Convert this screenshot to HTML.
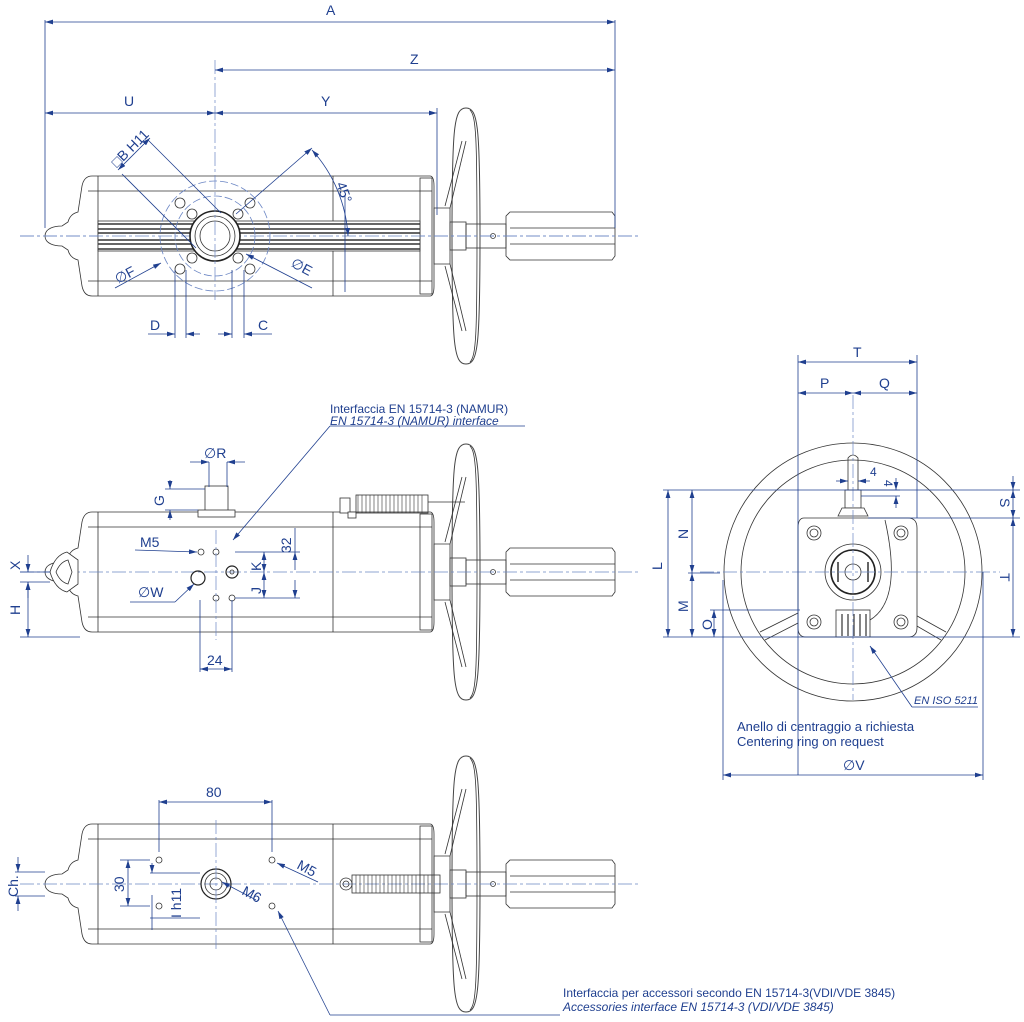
<!DOCTYPE html>
<html><head><meta charset="utf-8"><style>
html,body{margin:0;padding:0;background:#fff}
svg{display:block}
text{font-family:"Liberation Sans",sans-serif;fill:#1f3f8f;font-size:14px}
.b{stroke:#1f3f8f;stroke-width:0.8;fill:none}
.c{stroke:#6b86c4;stroke-width:0.7;fill:none;stroke-dasharray:14 3 3 3}
.k{stroke:#333;stroke-width:0.8;fill:none}
.kf{stroke:#333;stroke-width:0.8;fill:#fff}
.t{stroke:#222;stroke-width:1.6;fill:none}
</style></head><body>
<svg width="1024" height="1022" viewBox="0 0 1024 1022" xmlns="http://www.w3.org/2000/svg">
<defs>
<marker id="a" viewBox="0 0 10 6" refX="10" refY="3" markerWidth="10" markerHeight="6" orient="auto-start-reverse"><path d="M0,0 L10,3 L0,6z" fill="#1f3f8f"/></marker>
<g id="body">
 <path class="k" d="M45,0 C45,-8 55,-10 62,-10 L68,-14 Q70,-22 78,-24 L82,-50 Q84,-60 92,-60 L430,-60 Q434,-60 434,-50 L434,50 Q434,60 430,60 L92,60 Q84,60 82,50 L78,24 Q70,22 68,14 L62,10 C55,10 45,8 45,0z"/>
 <line class="k" x1="88" y1="-45" x2="432" y2="-45"/><line class="k" x1="88" y1="45" x2="432" y2="45"/>
 <line class="k" x1="98" y1="-60" x2="98" y2="60"/><line class="k" x1="333" y1="-60" x2="333" y2="60"/>
 <rect class="k" x="420" y="-58" width="12" height="116"/>
 <path class="k" d="M434,-28 L450,-28 L450,28 L434,28z"/>
 <rect class="k" x="450" y="-14" width="16" height="28"/>
 <rect class="k" x="466" y="-12" width="40" height="24"/>
 <path class="k" d="M506,-20 L510,-24 L612,-24 L615,-20 L615,20 L612,24 L510,24 L506,20z"/>
 <line class="k" x1="510" y1="-8" x2="615" y2="-8"/><line class="k" x1="510" y1="8" x2="615" y2="8"/>
 <circle class="k" cx="493" cy="0" r="2.5"/>
 <path class="t" style="stroke-width:1;stroke:#444" d="M466,-128 C478,-128 480,-110 480,0 C480,110 478,128 466,128 C454,128 452,110 452,0 C452,-110 454,-128 466,-128z"/>
 <path class="k" d="M470,-126 C476,-120 477,-100 477,0 C477,100 476,120 470,126"/>
 <line class="k" x1="462" y1="-95" x2="445" y2="-30"/><line class="k" x1="466" y1="-95" x2="450" y2="-28"/>
 <line class="k" x1="462" y1="95" x2="445" y2="30"/><line class="k" x1="466" y1="95" x2="450" y2="28"/>
 <line class="c" x1="20" y1="0" x2="640" y2="0"/>
</g>
</defs>

<!-- TOP VIEW -->
<use href="#body" y="236"/>
<g>
 <rect x="98" y="221" width="322" height="30" fill="#fff" stroke="#333" stroke-width="0.8"/>
 <g stroke="#333" stroke-width="1.4">
  <line x1="98" y1="224" x2="420" y2="224"/><line x1="98" y1="229" x2="420" y2="229"/><line x1="98" y1="233" x2="420" y2="233"/>
  <line x1="98" y1="240" x2="420" y2="240"/><line x1="98" y1="244" x2="420" y2="244"/><line x1="98" y1="249" x2="420" y2="249"/>
 </g>
 <line class="c" x1="20" y1="236" x2="640" y2="236"/>
 <circle cx="215" cy="236" r="55" class="b" stroke-dasharray="8 3" style="stroke:#6b86c4"/>
 <circle cx="215" cy="236" r="40" class="b" stroke-dasharray="8 3" style="stroke:#6b86c4"/>
 <circle cx="215" cy="236" r="25" fill="#fff" stroke="#222" stroke-width="1.6"/>
 <circle cx="215" cy="236" r="20" class="k"/><circle cx="215" cy="236" r="15" class="k"/>
 <g class="k">
  <circle cx="180" cy="203" r="5"/><circle cx="250" cy="203" r="5"/><circle cx="180" cy="269" r="5"/><circle cx="250" cy="269" r="5"/>
  <circle cx="192" cy="214" r="5"/><circle cx="238" cy="214" r="5"/><circle cx="192" cy="258" r="5"/><circle cx="238" cy="258" r="5"/>
 </g>
 <line class="c" x1="215" y1="60" x2="215" y2="300"/>
</g>
<!-- top dims -->
<g class="b">
 <line x1="45" y1="20" x2="45" y2="228"/><line x1="615" y1="20" x2="615" y2="228"/>
 <line x1="45" y1="22" x2="615" y2="22" marker-start="url(#a)" marker-end="url(#a)"/>
 <line x1="215" y1="70" x2="615" y2="70" marker-start="url(#a)" marker-end="url(#a)"/>
 <line x1="45" y1="113" x2="215" y2="113" marker-start="url(#a)" marker-end="url(#a)"/>
 <line x1="215" y1="113" x2="437" y2="113" marker-start="url(#a)" marker-end="url(#a)"/>
 <line x1="437" y1="108" x2="437" y2="215"/>
 <line x1="118" y1="170" x2="150" y2="138" marker-start="url(#a)" marker-end="url(#a)"/>
 <line x1="122" y1="174" x2="196" y2="248"/><line x1="148" y1="140" x2="221" y2="213"/>
 <line x1="236" y1="214" x2="312" y2="148" marker-end="url(#a)"/>
 <path d="M312,150 A140,140 0 0 1 348,236" marker-start="url(#a)" marker-end="url(#a)"/>
 <line x1="345" y1="196" x2="345" y2="292"/>
 <line x1="115" y1="288" x2="161" y2="263" marker-end="url(#a)"/>
 <line x1="312" y1="288" x2="246" y2="254" marker-end="url(#a)"/>
 <line x1="175" y1="270" x2="175" y2="338"/><line x1="186" y1="270" x2="186" y2="338"/>
 <line x1="232" y1="270" x2="232" y2="338"/><line x1="244" y1="270" x2="244" y2="338"/>
 <line x1="148" y1="334" x2="175" y2="334" marker-end="url(#a)"/><line x1="200" y1="334" x2="186" y2="334" marker-end="url(#a)"/>
 <line x1="218" y1="334" x2="232" y2="334" marker-end="url(#a)"/><line x1="272" y1="334" x2="244" y2="334" marker-end="url(#a)"/>
</g>
<text x="326" y="15">A</text><text x="410" y="64">Z</text><text x="124" y="106">U</text><text x="321" y="106">Y</text>
<text x="0" y="0" transform="translate(117,168) rotate(-45)">□B H11</text>
<text x="0" y="0" transform="translate(336,184) rotate(70)">45°</text>
<text x="0" y="0" transform="translate(118,284) rotate(-28)">∅F</text>
<text x="0" y="0" transform="translate(290,266) rotate(28)">∅E</text>
<text x="150" y="330">D</text><text x="258" y="330">C</text>

<!-- MIDDLE VIEW -->
<use href="#body" y="572"/>
<g>
 <path class="kf" d="M50,572 Q55,555 67,552 L78,560 L78,584 L67,592 Q55,589 50,572z"/>
 <path class="k" d="M56,572 Q60,562 68,560 L72,572 L68,584 Q60,582 56,572z"/>
 <rect class="kf" x="205" y="486" width="23" height="25"/><rect class="kf" x="198" y="510" width="37" height="7"/>
 <rect class="kf" x="340" y="498" width="10" height="15"/><rect class="kf" x="348" y="512" width="8" height="6"/>
 <rect class="k" x="356" y="495" width="72" height="18"/>
 <g stroke="#333" stroke-width="0.6">
  <path d="M358,495v18M362,495v18M366,495v18M370,495v18M374,495v18M378,495v18M382,495v18M386,495v18M390,495v18M394,495v18M398,495v18M402,495v18M406,495v18M410,495v18M414,495v18M418,495v18M422,495v18"/>
 </g>
 <line class="k" x1="428" y1="502" x2="465" y2="502"/>
 <circle class="k" cx="201" cy="552" r="3"/><circle class="k" cx="216" cy="552" r="3"/>
 <circle class="t" style="stroke-width:1.2" cx="198" cy="578" r="7"/>
 <circle class="t" style="stroke-width:1.2" cx="232" cy="572" r="6"/><circle class="k" cx="232" cy="572" r="2"/>
 <circle class="k" cx="216" cy="598" r="3"/><circle class="k" cx="232" cy="598" r="3"/>
 <line class="c" x1="216" y1="530" x2="216" y2="640"/>
</g>
<g class="b">
 <line x1="209" y1="462" x2="209" y2="487"/><line x1="227" y1="462" x2="227" y2="487"/>
 <line x1="190" y1="462" x2="209" y2="462" marker-end="url(#a)"/><line x1="245" y1="462" x2="227" y2="462" marker-end="url(#a)"/>
 <line x1="165" y1="489" x2="205" y2="489"/><line x1="165" y1="510" x2="198" y2="510"/>
 <line x1="170" y1="480" x2="170" y2="489" marker-end="url(#a)"/><line x1="170" y1="520" x2="170" y2="510" marker-end="url(#a)"/>
 <line x1="525" y1="426" x2="330" y2="426"/><line x1="330" y1="426" x2="233" y2="540" marker-end="url(#a)"/>
 <line x1="135" y1="550" x2="197" y2="552" marker-end="url(#a)"/>
 <line x1="130" y1="602" x2="175" y2="602"/><line x1="175" y1="602" x2="194" y2="584" marker-end="url(#a)"/>
 <line x1="235" y1="552" x2="300" y2="552"/><line x1="235" y1="598" x2="300" y2="598"/>
 <line x1="295" y1="528" x2="295" y2="552"/>
 <line x1="295" y1="570" x2="295" y2="552" marker-end="url(#a)"/><line x1="295" y1="580" x2="295" y2="598" marker-end="url(#a)"/>
 <line x1="264" y1="552" x2="264" y2="572" marker-start="url(#a)" marker-end="url(#a)"/>
 <line x1="264" y1="572" x2="264" y2="598" marker-start="url(#a)" marker-end="url(#a)"/>
 <line x1="200" y1="600" x2="200" y2="672"/><line x1="232" y1="600" x2="232" y2="672"/>
 <line x1="200" y1="669" x2="232" y2="669" marker-start="url(#a)" marker-end="url(#a)"/>
 <line x1="20" y1="637" x2="80" y2="637"/><line x1="20" y1="572" x2="50" y2="572"/><line x1="20" y1="582" x2="50" y2="582"/>
 <line x1="28" y1="582" x2="28" y2="637" marker-start="url(#a)" marker-end="url(#a)"/>
 <line x1="28" y1="555" x2="28" y2="572" marker-end="url(#a)"/><line x1="28" y1="598" x2="28" y2="582" marker-end="url(#a)"/>
</g>
<text x="204" y="458">∅R</text><text x="0" y="0" transform="translate(164,506) rotate(-90)">G</text>
<text x="330" y="413" style="font-size:12px">Interfaccia EN 15714-3 (NAMUR)</text>
<text x="330" y="425" style="font-size:12px;font-style:italic">EN 15714-3 (NAMUR) interface</text>
<text x="140" y="547">M5</text><text x="138" y="597">∅W</text>
<text x="0" y="0" transform="translate(291,553) rotate(-90)">32</text>
<text x="0" y="0" transform="translate(261,571) rotate(-90)">K</text>
<text x="0" y="0" transform="translate(261,594) rotate(-90)">J</text>
<text x="207" y="665">24</text>
<text x="0" y="0" transform="translate(20,570) rotate(-90)">X</text>
<text x="0" y="0" transform="translate(20,615) rotate(-90)">H</text>

<!-- BOTTOM VIEW -->
<use href="#body" y="884"/>
<g>
 <circle class="t" style="stroke-width:1.2" cx="216" cy="884" r="15"/><circle class="k" cx="216" cy="884" r="11"/>
 <circle class="k" cx="216" cy="884" r="6"/>
 <circle class="k" cx="159" cy="860" r="3"/><circle class="k" cx="159" cy="906" r="3"/>
 <circle class="k" cx="272" cy="860" r="3"/><circle class="k" cx="272" cy="906" r="3"/>
 <circle class="k" cx="346" cy="884" r="6"/><circle class="k" cx="346" cy="884" r="3"/>
 <rect class="k" x="352" y="875" width="88" height="18"/>
 <g stroke="#333" stroke-width="0.6"><path d="M356,875v18M360,875v18M364,875v18M368,875v18M372,875v18M376,875v18M380,875v18M384,875v18M388,875v18M392,875v18M396,875v18M400,875v18M404,875v18M408,875v18M412,875v18M416,875v18M420,875v18M424,875v18M428,875v18M432,875v18"/></g>
 <line class="c" x1="216" y1="820" x2="216" y2="950"/>
</g>
<g class="b">
 <line x1="159" y1="800" x2="159" y2="852"/><line x1="272" y1="800" x2="272" y2="852"/>
 <line x1="159" y1="802" x2="272" y2="802" marker-start="url(#a)" marker-end="url(#a)"/>
 <line x1="120" y1="860" x2="150" y2="860"/><line x1="120" y1="906" x2="150" y2="906"/>
 <line x1="128" y1="860" x2="128" y2="906" marker-start="url(#a)" marker-end="url(#a)"/>
 <line x1="150" y1="873" x2="200" y2="873"/><line x1="150" y1="918" x2="200" y2="918"/>
 <line x1="152" y1="863" x2="152" y2="873" marker-end="url(#a)"/><line x1="152" y1="918" x2="152" y2="895"/>
 <line x1="152" y1="930" x2="152" y2="918"/>
 <line x1="15" y1="872" x2="45" y2="872"/><line x1="15" y1="896" x2="45" y2="896"/>
 <line x1="18" y1="857" x2="18" y2="872" marker-end="url(#a)"/><line x1="18" y1="911" x2="18" y2="896" marker-end="url(#a)"/>
 <line x1="256" y1="900" x2="222" y2="882" marker-end="url(#a)"/>
 <line x1="318" y1="882" x2="277" y2="863" marker-end="url(#a)"/>
 <line x1="560" y1="1015" x2="330" y2="1015"/><line x1="330" y1="1015" x2="278" y2="911" marker-end="url(#a)"/>
</g>
<text x="206" y="797">80</text>
<text x="0" y="0" transform="translate(124,892) rotate(-90)">30</text>
<text x="0" y="0" transform="translate(181,918) rotate(-90)">I h11</text>
<text x="0" y="0" transform="translate(18,897) rotate(-90)">Ch.</text>
<text x="0" y="0" transform="translate(241,894) rotate(28)">M6</text>
<text x="0" y="0" transform="translate(296,868) rotate(28)">M5</text>
<text x="563" y="997" style="font-size:12px">Interfaccia per accessori secondo EN 15714-3(VDI/VDE 3845)</text>
<text x="563" y="1011" style="font-size:12px;font-style:italic">Accessories interface EN 15714-3 (VDI/VDE 3845)</text>

<!-- RIGHT VIEW -->
<g>
 <circle class="k" cx="853" cy="572" r="129"/><circle class="k" cx="853" cy="572" r="112"/>
 <path class="k" d="M760,632 L800,612 M765,640 L800,622 M946,632 L910,612 M941,640 L910,622"/>
 <path class="k" d="M848,490 L848,458 Q853,452 858,458 L858,490"/>
 <rect class="kf" x="845" y="490" width="16" height="18"/>
 <path class="kf" d="M838,516 L842,508 L864,508 L868,516z"/>
 <path class="kf" d="M804,518 L908,518 Q917,518 917,528 L917,628 Q917,637 908,637 L806,637 Q798,637 798,628 L798,528 Q798,518 804,518z"/>
 <path class="k" d="M885,520 Q903,600 870,620"/>
 <circle class="k" cx="814" cy="533" r="7"/><circle class="k" cx="814" cy="533" r="4"/>
 <circle class="k" cx="901" cy="533" r="7"/><circle class="k" cx="901" cy="533" r="4"/>
 <circle class="k" cx="814" cy="622" r="7"/><circle class="k" cx="814" cy="622" r="4"/>
 <circle class="k" cx="901" cy="622" r="7"/><circle class="k" cx="901" cy="622" r="4"/>
 <circle class="k" cx="853" cy="572" r="28"/>
 <circle cx="853" cy="572" r="22" fill="#fff" stroke="#222" stroke-width="1.6"/>
 <circle class="k" cx="853" cy="572" r="8"/>
 <line stroke="#222" stroke-width="1.4" x1="838" y1="562" x2="838" y2="582"/><line stroke="#222" stroke-width="1.4" x1="868" y1="562" x2="868" y2="582"/>
 <rect class="kf" x="836" y="610" width="34" height="27"/>
 <path stroke="#333" stroke-width="1.2" d="M842,614v22M848,614v22M854,614v22M860,614v22M866,614v22"/>
 <line class="c" x1="700" y1="572" x2="1000" y2="572"/><line class="c" x1="853" y1="395" x2="853" y2="700"/>
</g>
<g class="b">
 <line x1="798" y1="355" x2="798" y2="775"/><line x1="917" y1="355" x2="917" y2="518"/>
 <line x1="798" y1="362" x2="917" y2="362" marker-start="url(#a)" marker-end="url(#a)"/>
 <line x1="798" y1="393" x2="853" y2="393" marker-start="url(#a)" marker-end="url(#a)"/>
 <line x1="853" y1="393" x2="917" y2="393" marker-start="url(#a)" marker-end="url(#a)"/>
 <line x1="663" y1="490" x2="1020" y2="490"/><line x1="663" y1="637" x2="1020" y2="637"/>
 <line x1="868" y1="518" x2="1020" y2="518"/><line x1="688" y1="573" x2="720" y2="573"/>
 <line x1="710" y1="610" x2="800" y2="610"/>
 <line x1="668" y1="490" x2="668" y2="637" marker-start="url(#a)" marker-end="url(#a)"/>
 <line x1="692" y1="490" x2="692" y2="573" marker-start="url(#a)" marker-end="url(#a)"/>
 <line x1="692" y1="573" x2="692" y2="637" marker-start="url(#a)" marker-end="url(#a)"/>
 <line x1="714" y1="610" x2="714" y2="637" marker-start="url(#a)" marker-end="url(#a)"/>
 <line x1="1013" y1="476" x2="1013" y2="490" marker-end="url(#a)"/>
 <line x1="1013" y1="490" x2="1013" y2="518" marker-start="url(#a)" marker-end="url(#a)"/>
 <line x1="1013" y1="518" x2="1013" y2="637" marker-start="url(#a)" marker-end="url(#a)"/>
 <line x1="836" y1="481" x2="848" y2="481" marker-end="url(#a)"/><line x1="870" y1="481" x2="858" y2="481" marker-end="url(#a)"/>
 <line x1="858" y1="490" x2="900" y2="490"/><line x1="861" y1="496" x2="900" y2="496"/>
 <line x1="896" y1="478" x2="896" y2="490" marker-end="url(#a)"/><line x1="896" y1="508" x2="896" y2="496" marker-end="url(#a)"/>
 <line x1="723" y1="580" x2="723" y2="780"/><line x1="983" y1="572" x2="983" y2="780"/>
 <line x1="723" y1="775" x2="983" y2="775" marker-start="url(#a)" marker-end="url(#a)"/>
 <line x1="978" y1="707" x2="912" y2="707"/><line x1="912" y1="707" x2="870" y2="646" marker-end="url(#a)"/>
</g>
<text x="853" y="357">T</text><text x="820" y="388">P</text><text x="879" y="388">Q</text>
<text x="870" y="476" style="font-size:12px">4</text>
<text x="0" y="0" transform="translate(884,480) rotate(90)" style="font-size:12px">4</text>
<text x="0" y="0" transform="translate(662,570) rotate(-90)">L</text>
<text x="0" y="0" transform="translate(688,539) rotate(-90)">N</text>
<text x="0" y="0" transform="translate(688,612) rotate(-90)">M</text>
<text x="0" y="0" transform="translate(712,630) rotate(-90)">O</text>
<text x="0" y="0" transform="translate(1000,498) rotate(90)">S</text>
<text x="0" y="0" transform="translate(1000,573) rotate(90)">T</text>
<text x="914" y="704" style="font-size:11px;font-style:italic">EN ISO 5211</text>
<text x="737" y="731" style="font-size:13px">Anello di centraggio a richiesta</text>
<text x="737" y="746" style="font-size:13px">Centering ring on request</text>
<text x="843" y="770">∅V</text>
</svg>
</body></html>
